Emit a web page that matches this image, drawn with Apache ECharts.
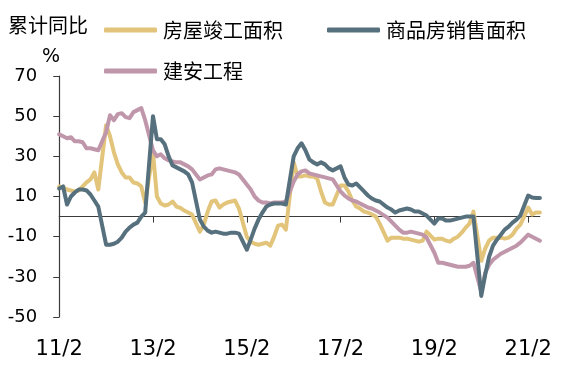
<!DOCTYPE html>
<html><head><meta charset="utf-8">
<script src="https://cdn.jsdelivr.net/npm/echarts@6/dist/echarts.min.js"></script>
<style>html,body{margin:0;padding:0;background:#fff}#c{width:575px;height:366px}</style>
</head><body><div id="c"></div>
<script>
// monthly categories from 2011/2 to 2021/5 (January has no cumulative value -> null)
const startYear = 2011, startMonth = 2, monthCount = 124;
const categories = [];
for (let k = 0; k < monthCount; k++) {
  const m = startMonth - 1 + k;
  const y = startYear + Math.floor(m / 12);
  categories.push(String(y % 100).padStart(2, '0') + '/' + (m % 12 + 1));
}
const tickLabels = ['11/2', '13/2', '15/2', '17/2', '19/2', '21/2'];
const yTickLabels = [-50, -30, -10, 10, 30, 50, 70];

// 房屋竣工面积
const completion = [
  15, 14.5, 13.5, 13, 12.5, 13, 15, 17, 18.5, 22, 13.5, null,
  45.5, 40, 32, 26, 22, 19.5, 19.5, 17, 16.5, 15, 7, null,
  32, 10, 6.5, 5.5, 6, 7.5, 5, 4.3, 3, 2, 1, null,
  -7.5, -4, 2.5, 7.5, 8, 4.5, 6, 7, 7.5, 8, 4, null,
  -10, -12.5, -13.5, -14, -13.5, -13, -14.5, -10, -4.5, -4, -6.5, null,
  27, 20, 20, 20.5, 20, 20, 19, 12.5, 7, 6, 6, null,
  15.5, 15.5, 12.5, 8, 5, 4, 2.5, 2, 1, 0, -3.5, null,
  -12, -10.5, -10.5, -10.5, -11, -11, -11.5, -12, -12.5, -12, -7.5, null,
  -11.5, -11, -11, -12, -12.5, -11, -10, -8, -5.5, -3.5, 2.5, null,
  -22, -16, -12, -10.5, -10.5, -10.5, -11, -10.5, -9, -6, -4, null,
  4.5, 1, 2, 2
];
// 商品房销售面积
const sales = [
  14, 15, 6, 10, 12, 13.5, 13.5, 13, 11, 8, 5, null,
  -14, -14, -13.5, -12.5, -10.5, -7.5, -5.5, -4, -3, 0, 2, null,
  50, 38.5, 38.5, 36, 30, 25.5, 24.5, 23.5, 22.5, 21, 17, null,
  -1.5, -5, -7, -8, -7.5, -8, -8.5, -8.5, -8, -8, -8.5, null,
  -16.5, -11.5, -6, -1.5, 2, 5, 6, 6.5, 6.5, 6.5, 6, null,
  30, 34, 36.5, 33, 28.5, 27, 26, 27, 26, 24, 23, null,
  25, 19.5, 16, 15.5, 16.5, 14.5, 12.5, 10.5, 9, 8, 7.5, null,
  4.5, 3.5, 2, 3, 3.5, 4, 3.5, 2.5, 2.5, 1.5, 0.5, null,
  -3.5, -1, -1, -2, -2, -1.5, -1, -0.5, 0, 0, 0, null,
  -39.5, -29, -20, -14.5, -11.5, -9, -6.5, -5, -3, -1.5, 0.5, null,
  10.5, 9.5, 9.3, 9.3
];
// 建安工程
const construction = [
  41, 40, 39, 39.5, 37.5, 37.5, 37, 34, 34, 33.5, 33, null,
  42, 50.5, 48, 51, 51.5, 49.5, 49, 52, 53, 54, 48, null,
  33, 30, 31, 29, 28, 27.5, 27, 27, 26, 25, 23.5, null,
  18.5, 19.5, 20.5, 21, 23.5, 24, 23.5, 23, 22.5, 22, 21, null,
  16, 13.5, 10, 8, 7, 7, 6.5, 7, 7, 7, 7.5, null,
  17.5, 21, 22.5, 23, 21.5, 21, 20.5, 20, 19.5, 19, 18.5, null,
  12.5, 10.5, 9, 8, 7.5, 6.5, 5.5, 4.5, 4, 3, 2, null,
  -0.5, -2.5, -4.5, -6.5, -8, -8, -7.5, -8, -8.5, -9, -10.5, null,
  -18, -23, -23, -23.5, -24, -24.5, -25, -25, -25, -24.5, -23, null,
  -37.5, -28, -24, -21.5, -20, -18.5, -17.5, -16.5, -15.5, -14.5, -13, null,
  -9, -10, -11, -12
];

const C_YEL = '#E2C47A', C_DARK = '#56707D', C_PINK = '#C096AA';
const FONT = 'DejaVu Sans';
const CJK = '"Noto Sans CJK SC", sans-serif';

const chart = echarts.init(document.getElementById('c'), null, {renderer: 'canvas'});
const legendCommon = {
  orient: 'horizontal', padding: 0, itemWidth: 53, itemHeight: 5, itemGap: 0,
  icon: 'roundRect', selectedMode: false,
  textStyle: {fontFamily: CJK, fontSize: 20, color: '#000', padding: [0, 0, 0, 1]}
};
chart.setOption({
  animation: false,
  backgroundColor: '#fff',
  grid: {left: 59.2, right: 35.1, top: 76, bottom: 49, containLabel: false},
  legend: [
    Object.assign({}, legendCommon, {left: 104, top: 20, data: ['房屋竣工面积']}),
    Object.assign({}, legendCommon, {left: 327, top: 20, data: ['商品房销售面积']}),
    Object.assign({}, legendCommon, {left: 104, top: 61, data: ['建安工程']})
  ],
  graphic: [
    {type: 'text', left: 8, top: 15, style: {text: '累计同比', font: '20px ' + CJK, fill: '#000'}},
    {type: 'text', left: 42, top: 48, style: {text: '%', font: '19px ' + FONT, fill: '#000'}}
  ],
  xAxis: [
    {
      type: 'category', data: categories, boundaryGap: false,
      axisLine: {show: true, onZero: true, lineStyle: {color: '#3a3a3a', width: 1}},
      axisTick: {show: true, length: 6, inside: false, interval: (i, v) => tickLabels.includes(v),
        lineStyle: {color: '#3a3a3a', width: 1}},
      axisLabel: {show: false}, splitLine: {show: false}
    },
    {
      type: 'category', data: categories, boundaryGap: false, position: 'bottom',
      axisLine: {show: false, onZero: false}, axisTick: {show: false}, splitLine: {show: false},
      axisLabel: {show: true, interval: (i, v) => tickLabels.includes(v), margin: 22,
        fontFamily: FONT, fontSize: 21, color: '#000'}
    }
  ],
  yAxis: {
    type: 'value', min: yTickLabels[0], max: yTickLabels[yTickLabels.length - 1], interval: 20,
    axisLine: {show: true, lineStyle: {color: '#3a3a3a', width: 1.2}},
    axisTick: {show: true, length: 6, inside: false, lineStyle: {color: '#3a3a3a', width: 1}},
    axisLabel: {margin: 22, fontFamily: FONT, fontSize: 18, color: '#000'},
    splitLine: {show: false}
  },
  series: [
    {name: '房屋竣工面积', type: 'line', data: completion, xAxisIndex: 0, showSymbol: false, connectNulls: true,
      color: C_YEL, lineStyle: {width: 4, color: C_YEL, cap: 'round', join: 'round'}},
    {name: '建安工程', type: 'line', data: construction, xAxisIndex: 0, showSymbol: false, connectNulls: true,
      color: C_PINK, lineStyle: {width: 4, color: C_PINK, cap: 'round', join: 'round'}},
    {name: '商品房销售面积', type: 'line', data: sales, xAxisIndex: 0, showSymbol: false, connectNulls: true,
      color: C_DARK, lineStyle: {width: 4, color: C_DARK, cap: 'round', join: 'round'}}
  ]
});
</script></body></html>
